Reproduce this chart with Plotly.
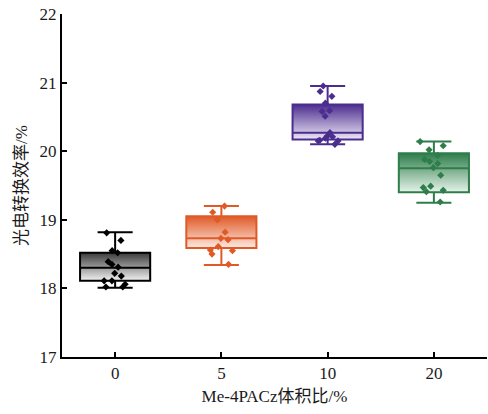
import plotly.graph_objects as go

categories = ["0", "5", "10", "20"]

# box statistics
q1_vals = [18.11, 18.59, 20.17, 19.40]
median_vals = [18.30, 18.73, 20.27, 19.75]
q3_vals = [18.52, 19.05, 20.68, 19.97]
low_vals = [18.01, 18.34, 20.10, 19.25]
high_vals = [18.82, 19.20, 20.95, 20.14]

# individual device efficiencies
pts_0 = [18.81, 18.70, 18.55, 18.52, 18.39, 18.35, 18.31, 18.22, 18.18, 18.11, 18.11, 18.06, 18.02, 18.02]
pts_5 = [19.20, 19.11, 19.00, 18.82, 18.73, 18.71, 18.61, 18.55, 18.56, 18.50, 18.35]
pts_10 = [20.95, 20.87, 20.80, 20.70, 20.59, 20.58, 20.51, 20.27, 20.22, 20.21, 20.19, 20.16, 20.15, 20.15, 20.10]
pts_20 = [20.14, 20.08, 20.02, 19.94, 19.85, 19.88, 19.82, 19.76, 19.65, 19.47, 19.49, 19.43, 19.41, 19.26]
points = [pts_0, pts_5, pts_10, pts_20]

line_colors = ["#000000", "#E05A28", "#4B2D8F", "#2E7D4A"]
dark_colors = ["#3a3a3a", "#E05A28", "#4B2D8F", "#2E7D4A"]
light_colors = ["#f2f2f2", "#fde9e0", "#eee8f6", "#e6f3ea"]

BOX_W = 0.66
FONT = "Liberation Serif, Times New Roman, Noto Sans CJK SC, serif"
TXT = "#1a1a1a"

fig = go.Figure()
for i in range(len(categories)):
    # gradient fill of the box body (base axes, drawn underneath)
    xl, xr = i - BOX_W / 2, i + BOX_W / 2
    fig.add_trace(go.Scatter(
        x=[xl, xr, xr, xl, xl],
        y=[q1_vals[i], q1_vals[i], q3_vals[i], q3_vals[i], q1_vals[i]],
        mode="lines", line=dict(width=0), fill="toself",
        fillgradient=dict(type="vertical",
                          colorscale=[[0, light_colors[i]], [1, dark_colors[i]]]),
        hoverinfo="skip", showlegend=False,
    ))
for i in range(len(categories)):
    # box outline, median, whiskers (overlay axes, drawn on top)
    fig.add_trace(go.Box(
        x=[i], q1=[q1_vals[i]], median=[median_vals[i]], q3=[q3_vals[i]],
        lowerfence=[low_vals[i]], upperfence=[high_vals[i]],
        width=BOX_W, whiskerwidth=0.5, boxpoints=False,
        fillcolor="rgba(0,0,0,0)", line=dict(color=line_colors[i], width=2),
        showlegend=False, xaxis="x2", yaxis="y2",
    ))
    # data points
    fig.add_trace(go.Box(
        x=[i] * len(points[i]), y=points[i],
        boxpoints="all", jitter=0.42, pointpos=0, width=BOX_W,
        fillcolor="rgba(0,0,0,0)", line=dict(width=0, color="rgba(0,0,0,0)"),
        marker=dict(symbol="diamond", size=5.5, color=line_colors[i]),
        showlegend=False, xaxis="x2", yaxis="y2",
    ))

fig.update_layout(
    width=488, height=414,
    margin=dict(l=62, r=1, t=14, b=57),
    paper_bgcolor="white", plot_bgcolor="white",
    boxmode="overlay",
    font=dict(family=FONT, size=17, color=TXT),
    xaxis=dict(
        range=[-0.5, 3.5], tickmode="array", tickvals=list(range(len(categories))),
        ticktext=categories, showgrid=False, zeroline=False,
        showline=True, linecolor="black", linewidth=2,
        ticks="inside", ticklen=5, tickwidth=2, tickcolor="black",
        tickfont=dict(family=FONT, size=17, color=TXT),
        title=dict(text="Me-4PACz体积比/%", font=dict(family=FONT, size=17, color=TXT), standoff=8),
    ),
    yaxis=dict(
        range=[17, 22], tickmode="array", tickvals=[17, 18, 19, 20, 21, 22],
        showgrid=False, zeroline=False,
        showline=True, linecolor="black", linewidth=2,
        ticks="inside", ticklen=5, tickwidth=2, tickcolor="black",
        tickfont=dict(family=FONT, size=17, color=TXT),
        title=dict(text="光电转换效率/%", font=dict(family=FONT, size=17, color=TXT), standoff=8),
    ),
    xaxis2=dict(range=[-0.5, 3.5], overlaying="x", visible=False),
    yaxis2=dict(range=[17, 22], overlaying="y", visible=False),
)

fig.write_html("out.html")
